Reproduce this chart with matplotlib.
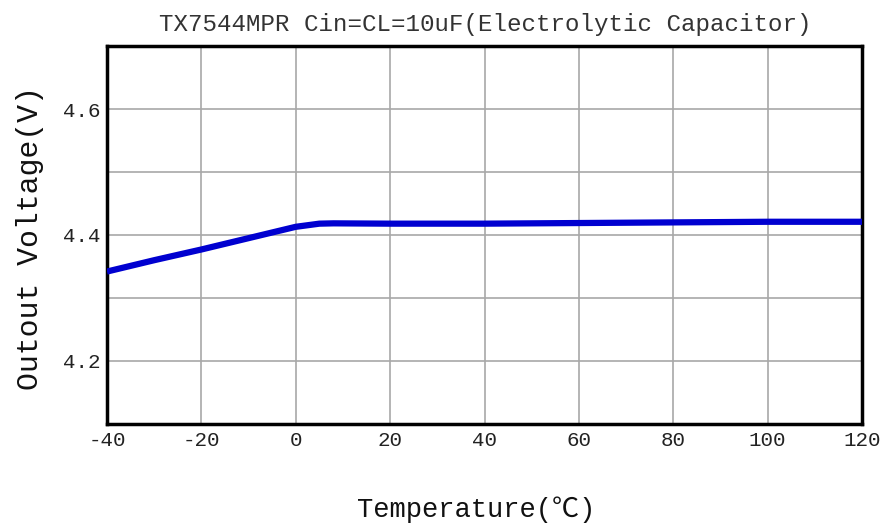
import matplotlib
matplotlib.use("Agg")
import matplotlib.pyplot as plt

temps = [-40, -30, -20, -10, 0, 5, 8, 20, 40, 60, 80, 100, 120]
volts = [4.342, 4.360, 4.377, 4.395, 4.413, 4.418, 4.4185, 4.418, 4.418, 4.419, 4.420, 4.421, 4.421]
xticks = [-40, -20, 0, 20, 40, 60, 80, 100, 120]
yticks = [4.1, 4.2, 4.3, 4.4, 4.5, 4.6, 4.7]
ylabels = ["", "4.2", "", "4.4", "", "4.6", ""]

fam = ["Liberation Mono", "DejaVu Sans Mono", "Noto Sans CJK SC"]

fig = plt.figure(figsize=(8.91, 5.28), dpi=100)
ax = fig.add_axes([107/891, 1-424/528, (862-107)/891, (424-46)/528])

ax.plot(temps, volts, color="#0000d0", linewidth=4.5, solid_capstyle="butt", zorder=3)

ax.set_xlim(-40, 120)
ax.set_ylim(4.1, 4.7)
ax.set_xticks(xticks)
ax.set_xticklabels([str(t) for t in xticks], family=fam, fontsize=15, color="#222222")
ax.set_yticks(yticks)
ax.set_yticklabels(ylabels, family=fam, fontsize=15, color="#222222")
ax.tick_params(length=0, pad=5)
ax.grid(True, color="#a8a8a8", linewidth=1.2)
for s in ax.spines.values():
    s.set_linewidth(2.5)
    s.set_color("black")

fig.text(485/891, 1-24/528, "TX7544MPR Cin=CL=10uF(Electrolytic Capacitor)",
         family=fam, fontsize=17.4, ha="center", va="center", color="#333333")
fig.text(476/891, 1-510/528, "Temperature(\u2103)", family=fam, fontsize=19.5,
         ha="center", va="center", color="#111111")
fig.text(30/891, 1-238/528, "Outout Voltage(V)", family=fam, fontsize=21.5,
         ha="center", va="center", rotation=90, color="#111111")

fig.savefig("out.png", dpi=100)
